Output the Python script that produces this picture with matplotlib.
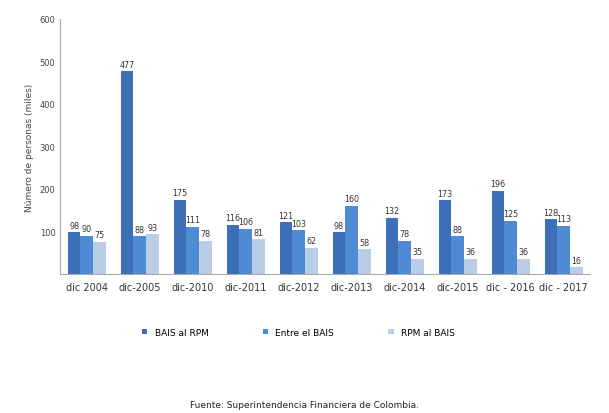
import numpy as np
import matplotlib.pyplot as plt

categorias = ["dic 2004", "dic-2005", "dic-2010", "dic-2011", "dic-2012",
              "dic-2013", "dic-2014", "dic-2015", "dic - 2016", "dic - 2017"]
bais_rpm = [98, 477, 175, 116, 121, 98, 132, 173, 196, 128]
entre_bais = [90, 88, 111, 106, 103, 160, 78, 88, 125, 113]
rpm_bais = [75, 93, 78, 81, 62, 58, 35, 36, 36, 16]

series = [bais_rpm, entre_bais, rpm_bais]
nombres = ["BAIS al RPM", "Entre el BAIS", "RPM al BAIS"]
colores = ["#3c6fb8", "#4f8ad4", "#b9cde6"]

fig = plt.figure(figsize=(6.09, 4.14), dpi=100)
ax = fig.add_axes([0.099, 0.336, 0.87, 0.616])

x = np.arange(len(categorias))
w = 0.24
for i, (vals, nom, col) in enumerate(zip(series, nombres, colores)):
    pos = x + (i - 1) * w
    ax.bar(pos, vals, w, color=col, label=nom)
    for p, v in zip(pos, vals):
        ax.text(p, v + 6, str(v), ha="center", va="bottom", fontsize=5.8, color="#333333")

ax.set_ylim(0, 600)
ax.set_yticks([100, 200, 300, 400, 500, 600])
ax.set_yticklabels(["100", "200", "300", "400", "500", "600"], fontsize=6, color="#444444")
ax.set_xticks(x)
ax.set_xticklabels(categorias, fontsize=7, color="#333333")
ax.set_xlim(-0.5, len(categorias) - 0.5)
ax.tick_params(axis="both", length=0)
ax.tick_params(axis="x", pad=6)
ax.set_ylabel("Número de personas (miles)", fontsize=6.5, color="#444444")
for s in ["top", "right"]:
    ax.spines[s].set_visible(False)
ax.spines["left"].set_color("#aaaaaa")
ax.spines["bottom"].set_color("#aaaaaa")

fig.legend(loc="center", bbox_to_anchor=(0.49, 0.195), ncol=3, frameon=False,
           fontsize=6.5, handlelength=0.6, handleheight=0.6, columnspacing=6)
fig.text(0.5, 0.015, "Fuente: Superintendencia Financiera de Colombia.", ha="center",
         fontsize=6.5, color="#222222")

fig.savefig("out.png", dpi=100)
